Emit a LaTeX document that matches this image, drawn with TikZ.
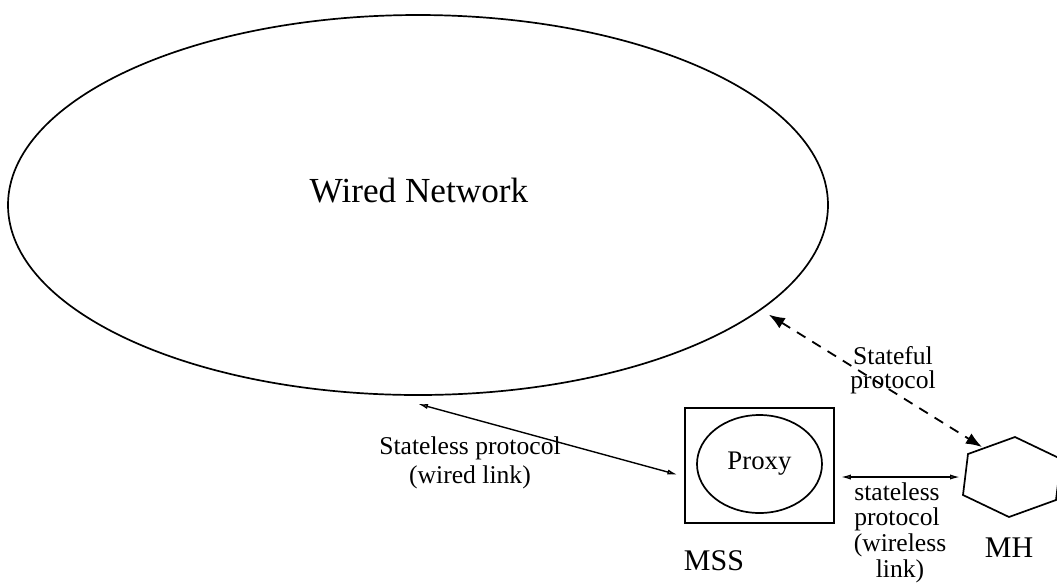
\documentclass[tikz,border=0pt]{standalone}
\usepackage{fontspec}
\setmainfont{Liberation Serif}
\usetikzlibrary{arrows.meta,shapes.geometric}
\tikzset{
	lbl/.style = {font=\fontsize{12.8pt}{15pt}\selectfont, inner sep=0pt},
	nodelbl/.style = {font=\fontsize{15pt}{17pt}\selectfont, inner sep=0pt},
	plainlink/.style = {line width=0.7pt, {Latex[open,length=5pt,width=2.6pt]}-{Latex[open,length=5pt,width=2.6pt]}},
	statelink/.style = {line width=0.9pt, dash pattern=on 5pt off 4pt, {Latex[length=8pt,width=6pt]}-{Latex[length=8pt,width=6pt]}}
}
\begin{document}
	\begin{tikzpicture}[x=0.5pt,y=-0.5pt, line width=0.85pt]
		\useasboundingbox (0,0) rectangle (1057,586);
		
		% the wired network
		\node[draw, ellipse, inner sep=0pt, minimum width=410pt, minimum height=190pt] (net) at (418,205) {};
		\node[font=\fontsize{17.6pt}{20pt}\selectfont] (netlbl) at (419,191) {Wired Network};
		
		% MSS with the proxy inside
		\node[draw, rectangle, minimum width=74.5pt, minimum height=57.5pt] (mss) at (759.5,465.5) {};
		\node[draw, ellipse, inner sep=0pt, minimum width=62.5pt, minimum height=49pt, font=\fontsize{13.4pt}{15pt}\selectfont] (proxy) at (759.5,464) {Proxy};
		\node[nodelbl] (msslbl) at (714,561) {MSS};
		
		% mobile host
		\coordinate (mh) at (1012,477);
		\coordinate (mhw) at (965,477);
		\coordinate (mhnw) at (982,447);
		\draw (1015,437) -- (968,454) -- (963,495) -- (1009,517) -- (1056,500) -- (1061,459) -- cycle;
		\node[nodelbl] (mhlbl) at (1009,548) {MH};
		
		% links
		\draw[plainlink, shorten >=3.5pt] ([yshift=-4pt]net.south) -- ([yshift=-5.5pt]mss.west);
		\draw[plainlink, shorten <=3pt, shorten >=2.5pt] (mss.east |- mh) -- (mhw);
		\draw[statelink, shorten <=4.5pt] (net.-17) -- (mhnw);
		
		\node[lbl] (wiredl1) at (470,448) {Stateless protocol};
		\node[lbl] (wiredl2) at (470,477) {(wired link)};
		\node[lbl] (statel1) at (893,356) {Stateful};
		\node[lbl] (statel2) at (893,382) {protocol};
		\node[lbl] (wlessl1) at (897,492) {stateless};
		\node[lbl] (wlessl2) at (897,519) {protocol};
		\node[lbl] (wlessl3) at (900,545) {(wireless};
		\node[lbl] (wlessl4) at (900,571) {link)};
	\end{tikzpicture}
\end{document}
